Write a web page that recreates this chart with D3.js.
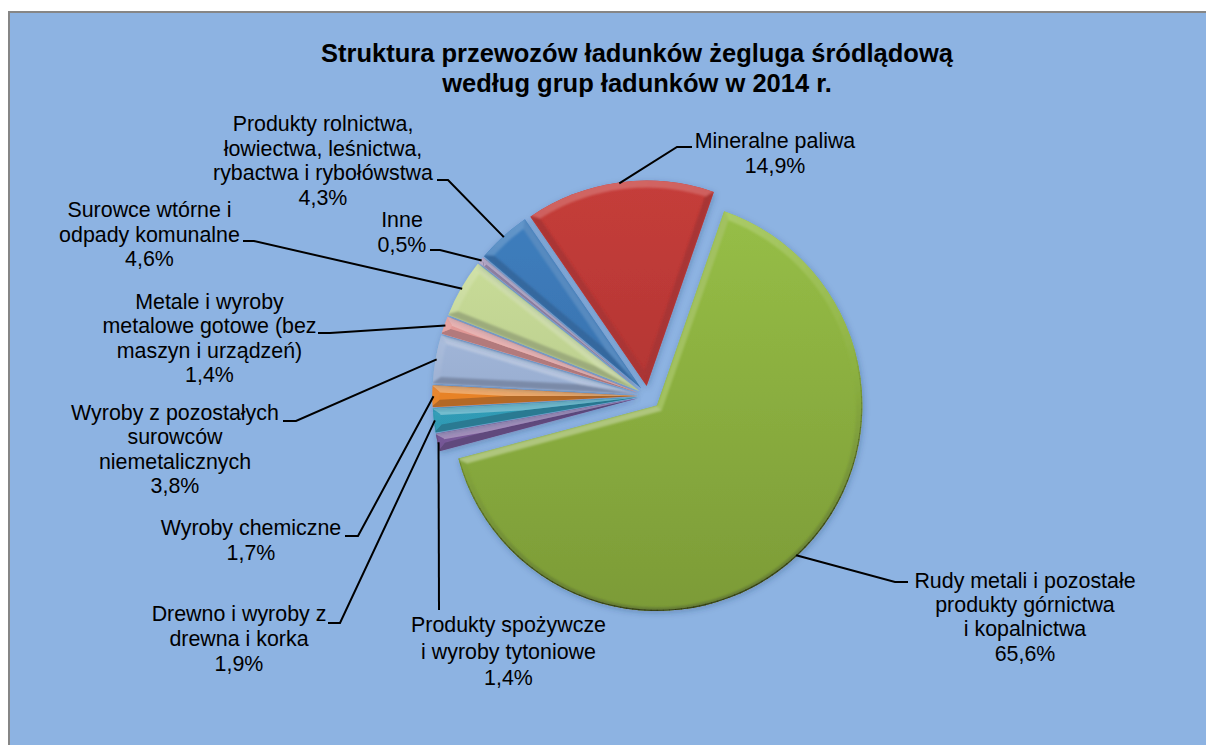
<!DOCTYPE html>
<meta charset="utf-8" />
<script src="https://d3js.org/d3.v7.min.js"></script>
<style>
  html, body { margin: 0; background: #fff; overflow: hidden; }
  text { font-family: "Liberation Sans", Arial, sans-serif; fill: #000; }
</style>
<body>
  <div id="my_dataviz"></div>
  <script>
    // values, clockwise from the big green slice
    const categories = [
      "Rudy metali i pozostałe produkty górnictwa i kopalnictwa",
      "Produkty spożywcze i wyroby tytoniowe",
      "Drewno i wyroby z drewna i korka",
      "Wyroby chemiczne",
      "Wyroby z pozostałych surowców niemetalicznych",
      "Metale i wyroby metalowe gotowe (bez maszyn i urządzeń)",
      "Surowce wtórne i odpady komunalne",
      "Inne",
      "Produkty rolnictwa, łowiectwa, leśnictwa, rybactwa i rybołówstwa",
      "Mineralne paliwa"
    ];
    const shares = [65.6, 1.4, 1.9, 1.7, 3.8, 1.4, 4.6, 0.5, 4.3, 14.9];
    const labelLines = [
      ["Rudy metali i pozostałe", "produkty górnictwa", "i kopalnictwa"],
      ["Produkty spożywcze", "i wyroby tytoniowe"],
      ["Drewno i wyroby z", "drewna i korka"],
      ["Wyroby chemiczne"],
      ["Wyroby z pozostałych", "surowców", "niemetalicznych"],
      ["Metale i wyroby", "metalowe gotowe (bez", "maszyn i urządzeń)"],
      ["Surowce wtórne i", "odpady komunalne"],
      ["Inne"],
      ["Produkty rolnictwa,", "łowiectwa, leśnictwa,", "rybactwa i rybołówstwa"],
      ["Mineralne paliwa"]
    ];
    const title = [
      "Struktura przewozów ładunków żegluga śródlądową",
      "według grup ładunków w 2014 r."
    ];

    // styling, same order as categories
    const topColors = ["#97bf47", "#8a68ad", "#35aecb", "#f68d2c", "#b3c7e8", "#eba3a1", "#cfe39b", "#b3a3c6", "#3f7fc0", "#c53d3a"];
    const bottomColors = ["#7c9b37", "#6a4f8a", "#2b8ba3", "#d9771f", "#7f95ba", "#cf8583", "#a9bb85", "#8d7da0", "#33689f", "#a32f2d"];
    const explode = [13, 10, 10, 10, 10, 10, 10, 10, 10, 10];
    // label position (centre x, first baseline y, line gap), then the leader's elbow and its end
    const labelPos = [
      [1025, 588, 24.2], [508.5, 632, 26.5], [239, 621, 25], [251, 535, 24.5], [175, 420, 24.4],
      [209.5, 309, 24.4], [149.5, 217, 24.5], [402, 227, 24.5], [323, 131, 24.6], [775, 148, 25]
    ];
    const elbows = [
      [[895, 582], [908, 582]], [[439, 610], [439, 610]], [[340, 623], [328, 623]],
      [[358, 536], [345, 536]], [[296, 421], [283, 421]], [[330, 333], [318, 333]],
      [[254, 241], [243, 241]], [[440, 250], [430, 250]], [[448, 180], [437, 180]],
      [[677, 147], [692, 147]]
    ];

    const width = 1206, height = 745;
    const cx = 648, cy = 396, radius = 205.5, bevel = 7;

    const svg = d3.select("#my_dataviz").append("svg")
      .attr("width", width).attr("height", height)
      .style("display", "block");

    // frame runs off the right and bottom of the page
    svg.append("rect")
      .attr("x", 9).attr("y", 12)
      .attr("width", 1220).attr("height", 760)
      .attr("fill", "#8db3e2")
      .attr("stroke", "#868686").attr("stroke-width", 2);

    const defs = svg.append("defs");
    const shadow = defs.append("filter").attr("id", "shadow")
      .attr("x", "-20%").attr("y", "-20%").attr("width", "140%").attr("height", "140%");
    shadow.append("feDropShadow")
      .attr("dx", 1).attr("dy", 2).attr("stdDeviation", 3)
      .attr("flood-color", "#1f3a5f").attr("flood-opacity", 0.3);
    defs.append("filter").attr("id", "soft")
      .append("feGaussianBlur").attr("stdDeviation", 1);
    defs.append("filter").attr("id", "softThin")
      .append("feGaussianBlur").attr("stdDeviation", 0.4);

    // title
    const titleText = svg.append("text")
      .attr("text-anchor", "middle")
      .style("font-size", "25.5px").style("font-weight", "bold");
    title.forEach((t, i) => {
      titleText.append("tspan").attr("x", 637).attr("y", 61.5 + i * 30).text(t);
    });

    // pie, green starts a bit right of north
    const startAngle = 19.1 * Math.PI / 180;
    const pie = d3.pie().sort(null)
      .startAngle(startAngle).endAngle(startAngle + 2 * Math.PI);
    const arcs = pie(shares);
    const sliceArc = d3.arc().innerRadius(0).outerRadius(radius);

    function polar(a, r) {
      return [r * Math.sin(a), -r * Math.cos(a)];
    }
    function poly(pts) {
      return d3.line()(pts) + "Z";
    }
    const fmt = d3.format(".1f");

    function lightOf(nx, ny) {
      return -ny * 0.85 - nx * 0.15;
    }
    // shade a bevel facet from the face colour at that height, by how much it faces the light
    function facetColor(i, lit, y, gain) {
      const base = d3.interpolateRgb(topColors[i], bottomColors[i])((y + radius) / (2 * radius));
      return lit >= 0
        ? d3.interpolateRgb(base, "#ffffff")(lit * gain)
        : d3.interpolateRgb(base, "#1d1d2b")(-lit * 0.3);
    }

    const sliceG = svg.append("g");
    arcs.forEach((d, i) => {
      const mid = (d.startAngle + d.endAngle) / 2;
      const half = (d.endAngle - d.startAngle) / 2;
      const thin = half < 0.1;
      const off = polar(mid, explode[i]);
      const ox = cx + off[0], oy = cy + off[1];

      const grad = defs.append("linearGradient").attr("id", "face" + i)
        .attr("gradientUnits", "userSpaceOnUse")
        .attr("x1", 0).attr("x2", 0)
        .attr("y1", -radius).attr("y2", radius);
      grad.append("stop").attr("offset", 0).attr("stop-color", topColors[i]);
      grad.append("stop").attr("offset", 1).attr("stop-color", bottomColors[i]);

      defs.append("clipPath").attr("id", "clip" + i)
        .append("path").attr("d", sliceArc(d));

      const g = sliceG.append("g")
        .attr("transform", "translate(" + ox + "," + oy + ")");
      const outline = g.append("g").attr("filter", "url(#shadow)");
      outline.append("path").attr("d", sliceArc(d)).attr("fill", "url(#face" + i + ")");

      const clipped = g.append("g").attr("clip-path", "url(#clip" + i + ")");
      const inner = clipped.append("g").attr("filter", thin ? "url(#softThin)" : "url(#soft)");

      // inset corner on the bisector and ends of the inset arc
      const apexDist = bevel / Math.sin(Math.min(half, Math.PI / 2));
      const apexIn = polar(mid, apexDist);
      const innerR = radius - bevel;
      // angle on the inset arc where a side offset by the bevel width meets it
      const da = Math.asin(bevel / innerR);
      const a0 = d.startAngle + da, a1 = d.endAngle - da;
      const p0 = polar(a0, innerR), p1 = polar(a1, innerR);

      // the two straight sides
      const nStart = [-Math.cos(d.startAngle), -Math.sin(d.startAngle)];
      const nEnd = [Math.cos(d.endAngle), Math.sin(d.endAngle)];
      inner.append("path")
        .attr("d", poly([[0, 0], apexIn, p0, polar(d.startAngle, radius + 2)]))
        .attr("fill", facetColor(i, lightOf(nStart[0], nStart[1]), p0[1] / 2, 0.38));
      inner.append("path")
        .attr("d", poly([[0, 0], apexIn, p1, polar(d.endAngle, radius + 2)]))
        .attr("fill", facetColor(i, lightOf(nEnd[0], nEnd[1]), p1[1] / 2, 0.38));

      // outer rim, split into short pieces so the shade follows the curve;
      // lower, unlit part of the rim is narrow with a dark edge
      const steps = Math.max(2, Math.ceil((d.endAngle - d.startAngle) / 0.03));
      d3.range(steps).forEach(s => {
        const t0 = d.startAngle + (d.endAngle - d.startAngle) * s / steps;
        const t1 = d.startAngle + (d.endAngle - d.startAngle) * (s + 1) / steps + 0.004;
        const tm = (t0 + t1) / 2;
        const lit = lightOf(Math.sin(tm), -Math.cos(tm));
        const rIn = lit >= 0 ? innerR : radius - bevel * (1 + lit * 0.6);
        const inA0 = a0 + (a1 - a0) * s / steps;
        const inA1 = a0 + (a1 - a0) * (s + 1) / steps + 0.004;
        inner.append("path")
          .attr("d", poly([polar(inA0, rIn), polar(t0, radius + 2), polar(t1, radius + 2), polar(inA1, rIn)]))
          .attr("fill", facetColor(i, lit, polar(tm, radius)[1], 0.24));
        if (lit < 0.1) {
          clipped.append("path")
            .attr("d", d3.line()([polar(t0, radius), polar(t1, radius)]))
            .attr("stroke", "#2a3010")
            .attr("stroke-opacity", Math.min(0.75, (0.1 - lit) * 0.9))
            .attr("stroke-width", 2.4)
            .attr("fill", "none");
        }
      });
    });

    // leaders run from the middle of each slice's rim to the label
    const leaderG = svg.append("g");
    arcs.forEach((d, i) => {
      const mid = (d.startAngle + d.endAngle) / 2;
      const e = polar(mid, explode[i] + radius - 1);
      const pts = [[cx + e[0], cy + e[1]]].concat(elbows[i]);
      leaderG.append("path")
        .attr("d", d3.line()(pts))
        .attr("fill", "none")
        .attr("stroke", "#000").attr("stroke-width", 2);
    });

    // labels
    const labelG = svg.append("g").attr("text-anchor", "middle")
      .style("font-size", "21.4px");
    labelLines.forEach((lines, i) => {
      const t = labelG.append("text").attr("aria-label", categories[i]);
      const rows = lines.concat([fmt(shares[i]).replace(".", ",") + "%"]);
      rows.forEach((row, j) => {
        t.append("tspan")
          .attr("x", labelPos[i][0])
          .attr("y", labelPos[i][1] + j * labelPos[i][2])
          .text(row);
      });
    });
  </script>
</body>
